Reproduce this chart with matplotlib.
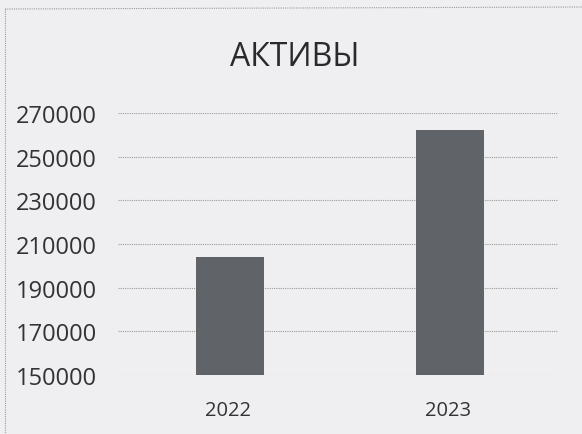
import matplotlib
matplotlib.use("Agg")
import matplotlib.pyplot as plt
from matplotlib.lines import Line2D

categories = ["2022", "2023"]
values = [204200, 262300]
yticks = [150000, 170000, 190000, 210000, 230000, 250000, 270000]
title = "АКТИВЫ"

bg = "#efeff1"
plt.rcParams['font.family'] = ['Open Sans', 'DejaVu Sans']

fig = plt.figure(figsize=(5.82, 4.35), dpi=100, facecolor=bg)
ax = fig.add_axes([118/582, 1-376/435, (558-118)/582, (376-114)/435])
ax.set_facecolor(bg)

x = list(range(len(categories)))
ax.bar([i + 0.01 for i in x], values, width=0.31, color="#606368", zorder=3)
ax.set_xlim(-0.5, 1.5)
ax.set_ylim(150000, 270000)
ax.set_yticks(yticks)
ax.set_yticklabels([str(v) for v in yticks], fontsize=17, color="#333333")
ax.set_xticks(x)
ax.set_xticklabels(categories, fontsize=14.5, color="#333333")
ax.tick_params(axis='both', length=0)
ax.tick_params(axis='y', pad=15)
ax.tick_params(axis='x', pad=18)
ax.grid(axis='y', color="#9a9a9a", linestyle=(0, (1, 1)), linewidth=0.8, zorder=0)
for s in ax.spines.values():
    s.set_visible(False)

fig.text(295/582, 1-57/435, title, ha='center', va='center', fontsize=23, color="#2a2a2a")

# outer chart border (dotted)
fig.add_artist(Line2D([5/582, 1.0], [1-10/435, 1-8/435], transform=fig.transFigure,
                      color="#9a9a9a", linestyle=(0, (1, 1)), linewidth=0.8))
fig.add_artist(Line2D([5/582, 5/582], [1-10/435, 0.0], transform=fig.transFigure,
                      color="#9a9a9a", linestyle=(0, (1, 1)), linewidth=0.8))

fig.savefig("out.png", dpi=100, facecolor=bg)
